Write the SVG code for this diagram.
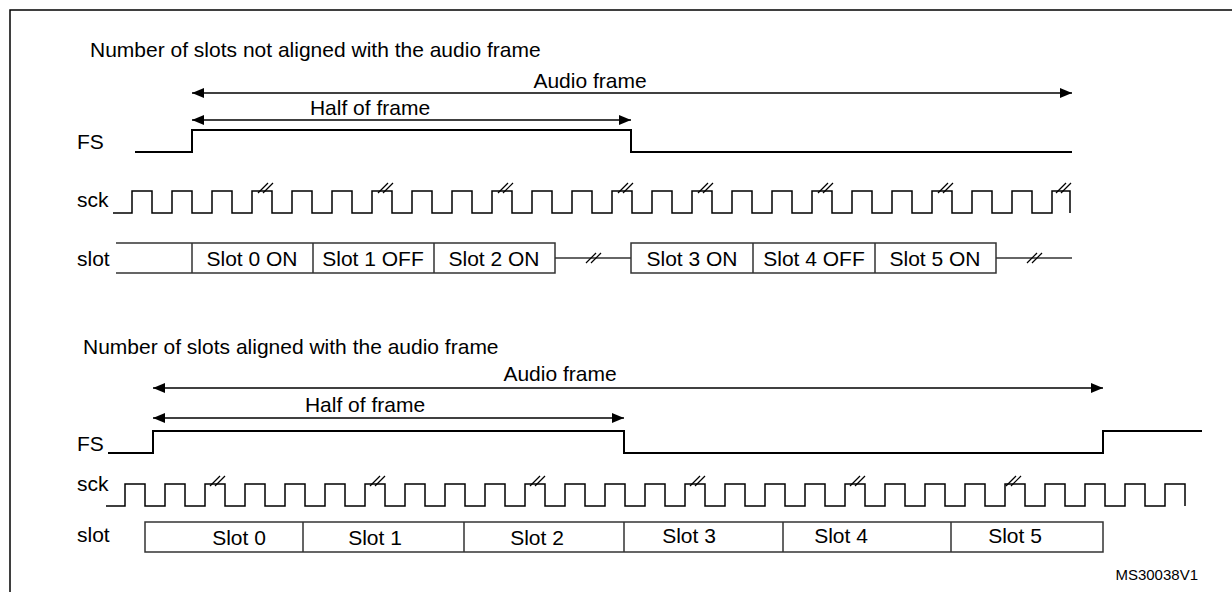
<svg xmlns="http://www.w3.org/2000/svg" width="1232" height="592" viewBox="0 0 1232 592">
<style>
text{font-family:"Liberation Sans",Arial,sans-serif;font-size:21px;fill:#000}
.w{fill:none;stroke:#000;stroke-width:2}
.c{fill:none;stroke:#000;stroke-width:1.5}
.b{fill:none;stroke:#333;stroke-width:1.5}
.m{stroke:#000;stroke-width:1.2}
.mid{text-anchor:middle}
</style>
<defs>
<marker id="a" viewBox="0 0 12 10" refX="12" refY="5" markerWidth="12" markerHeight="10" markerUnits="userSpaceOnUse" orient="auto-start-reverse"><path d="M0,0L12,5L0,10z" fill="#000"/></marker>
<g id="brk"><line x1="0" y1="5" x2="10" y2="-5" class="m"/><line x1="5" y1="5" x2="15" y2="-5" class="m"/></g>
</defs>
<rect x="10" y="10" width="1240" height="600" fill="none" stroke="#000" stroke-width="1.5"/>
<g id="top">
<text x="90" y="57">Number of slots not aligned with the audio frame</text>
<text x="77" y="149">FS</text>
<text x="77" y="207">sck</text>
<text x="77" y="266">slot</text>
<g id="conn-top">
<line x1="192" y1="93" x2="1072" y2="93" class="c" marker-start="url(#a)" marker-end="url(#a)"/>
<text x="590" y="88" class="mid">Audio frame</text>
<line x1="192" y1="120" x2="631" y2="120" class="c" marker-start="url(#a)" marker-end="url(#a)"/>
<text x="370" y="115" class="mid">Half of frame</text>
</g>
<path class="w" d="M135,152H192V130H631V152H1072"/>
<path class="c" d="M113,213H132V191H152V213H172V191H192V213H212V191H232V213H252V191H272V213H292V191H312V213H332V191H352V213H372V191H392V213H412V191H432V213H452V191H472V213H492V191H512V213H532V191H552V213H572V191H592V213H612V191H632V213H652V191H672V213H692V191H712V213H732V191H752V213H772V191H792V213H812V191H832V213H852V191H872V213H892V191H912V213H932V191H952V213H972V191H992V213H1012V191H1032V213H1052V191H1070V213"/>
<use href="#brk" x="258" y="188"/><use href="#brk" x="378" y="188"/><use href="#brk" x="498" y="188"/><use href="#brk" x="618" y="188"/>
<use href="#brk" x="698" y="188"/><use href="#brk" x="818" y="188"/><use href="#brk" x="938" y="188"/><use href="#brk" x="1056" y="188"/>
<path class="b" d="M116,243H555V273H116M192,243V273M313,243V273M434,243V273M555,243V273"/>
<line x1="555" y1="258" x2="631" y2="258" class="b"/><use href="#brk" x="586" y="258"/>
<path class="b" d="M631,243H996V273H631ZM753,243V273M875,243V273"/>
<line x1="996" y1="258" x2="1072" y2="258" class="b"/><use href="#brk" x="1027" y="258"/>
<text x="252" y="266" class="mid">Slot 0 ON</text>
<text x="373" y="266" class="mid">Slot 1 OFF</text>
<text x="494" y="266" class="mid">Slot 2 ON</text>
<text x="692" y="266" class="mid">Slot 3 ON</text>
<text x="814" y="266" class="mid">Slot 4 OFF</text>
<text x="935" y="266" class="mid">Slot 5 ON</text>
</g>
<g id="bottom">
<text x="83" y="354">Number of slots aligned with the audio frame</text>
<text x="77" y="451">FS</text>
<text x="77" y="491">sck</text>
<text x="77" y="542">slot</text>
<g id="conn-bottom">
<line x1="153" y1="388" x2="1103" y2="388" class="c" marker-start="url(#a)" marker-end="url(#a)"/>
<text x="560" y="381" class="mid">Audio frame</text>
<line x1="153" y1="418" x2="624" y2="418" class="c" marker-start="url(#a)" marker-end="url(#a)"/>
<text x="365" y="412" class="mid">Half of frame</text>
</g>
<path class="w" d="M108,453H153V431H624V453H1103V431H1202"/>
<path class="c" d="M106,506H125V484H145V506H165V484H185V506H205V484H225V506H245V484H265V506H285V484H305V506H325V484H345V506H365V484H385V506H405V484H425V506H445V484H465V506H485V484H505V506H525V484H545V506H565V484H585V506H605V484H625V506H645V484H665V506H685V484H705V506H725V484H745V506H765V484H785V506H805V484H825V506H845V484H865V506H885V484H905V506H925V484H945V506H965V484H985V506H1005V484H1025V506H1045V484H1065V506H1085V484H1105V506H1125V484H1145V506H1165V484H1185V506"/>
<use href="#brk" x="210" y="481"/><use href="#brk" x="370" y="481"/><use href="#brk" x="530" y="481"/>
<use href="#brk" x="690" y="481"/><use href="#brk" x="850" y="481"/><use href="#brk" x="1006" y="481"/>
<path class="b" d="M145,522H1103V552H145ZM303,522V552M464,522V552M624,522V552M783,522V552M951,522V552"/>
<text x="239" y="545" class="mid">Slot 0</text>
<text x="375" y="545" class="mid">Slot 1</text>
<text x="537" y="545" class="mid">Slot 2</text>
<text x="689" y="543" class="mid">Slot 3</text>
<text x="841" y="543" class="mid">Slot 4</text>
<text x="1015" y="543" class="mid">Slot 5</text>
</g>
<text x="1198" y="580" style="font-size:15px;text-anchor:end">MS30038V1</text>
</svg>
